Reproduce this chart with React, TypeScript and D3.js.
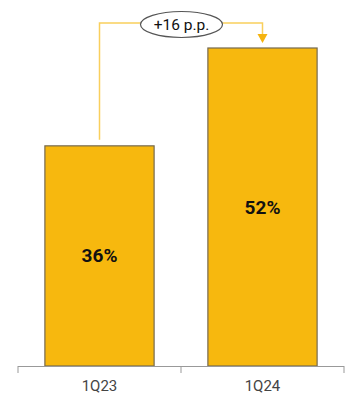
import React from "react";
import * as d3 from "d3";

const categories = ["1Q23", "1Q24"];
const values = [36, 52];
const deltaLabel = "+16 p.p.";

export default function App() {
  const W = 345, H = 398;
  const x = d3.scaleBand<string>().domain(categories).range([18, 344]).paddingInner(0.33).paddingOuter(0.165);
  const y = d3.scaleLinear().domain([0, 52]).range([366, 48]);
  const bw = x.bandwidth();
  const c0 = x(categories[0])! + bw / 2;
  const c1 = x(categories[1])! + bw / 2;
  const lineY = 23;
  const ex = 181.5, ey = 24.5;
  const boundaries = [18, (x(categories[0])! + bw + x(categories[1])!) / 2, 344];
  return (
    <svg width={W} height={H} style={{ position: "absolute", left: 0, top: 0 }} fontFamily="Roboto, 'DejaVu Sans', sans-serif">
      {categories.map((c, i) => (
        <g key={c}>
          <rect x={x(c)!} y={y(values[i])} width={bw} height={y(0) - y(values[i])} fill="#F7B80E" stroke="#75694f" strokeWidth={1.2} />
          <text x={x(c)! + bw / 2} y={(y(values[i]) + y(0)) / 2} textAnchor="middle" dominantBaseline="central" fontWeight="bold" fontSize={19} fill="#111">{values[i]}%</text>
          <text x={x(c)! + bw / 2} y={386} textAnchor="middle" dominantBaseline="central" fontSize={15} fill="#444">{c}</text>
        </g>
      ))}
      <line x1={18} x2={344} y1={366.5} y2={366.5} stroke="#999" strokeWidth={1} />
      {boundaries.map((b, i) => (
        <line key={i} x1={b} x2={b} y1={366} y2={373} stroke="#999" strokeWidth={1} />
      ))}
      <path d={`M${c0},${y(values[0]) - 6} V${lineY} H${ex - 41}`} fill="none" stroke="#F9CF5C" strokeWidth={1.5} />
      <path d={`M${ex + 41},${lineY} H${c1} V${36}`} fill="none" stroke="#F9CF5C" strokeWidth={1.5} />
      <path d={`M${c1 - 5},${34} L${c1 + 5},${34} L${c1},${43} Z`} fill="#F5B30E" />
      <ellipse cx={ex} cy={ey} rx={41} ry={13} fill="#fff" stroke="#555" strokeWidth={1.2} />
      <text x={ex} y={ey} textAnchor="middle" dominantBaseline="central" fontSize={15.5} fill="#111">{deltaLabel}</text>
    </svg>
  );
}
